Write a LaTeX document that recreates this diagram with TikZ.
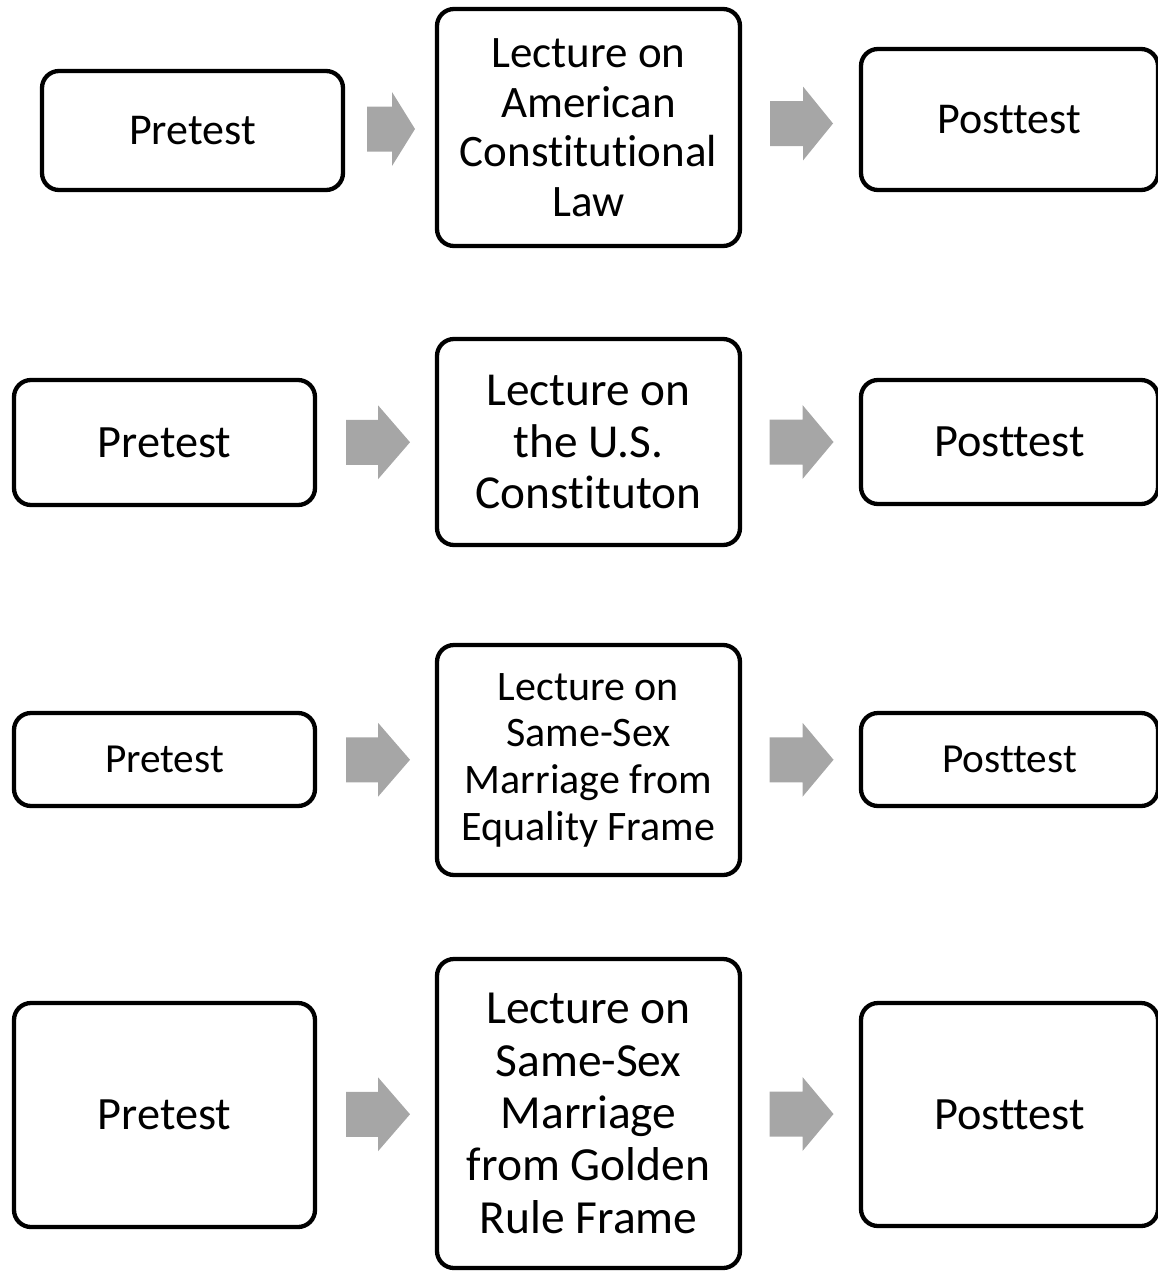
\documentclass[tikz,border=0pt]{standalone}
\usepackage{fontspec}
\setmainfont{Carlito}[Ligatures={NoCommon}]
\usetikzlibrary{calc}
\definecolor{arrowgray}{RGB}{166,166,166}
\tikzset{
  stage/.style={draw=black, line width=4.3pt, rounded corners=17pt, align=center,
                inner sep=0pt, fill=white},
  flow/.style={fill=arrowgray},
  fs/.style 2 args={font=\fontsize{#1}{#2}\selectfont},
}
% block arrow between two stages: from, to, total length, head length, x offset
\newcommand{\flowarrow}[5]{%
  \coordinate (#1#2) at ($(#1.east)!0.5!(#2.west)$);
  \fill[flow] ($(#1#2)+({#5-#3/2},-22.5)$) -- ($(#1#2)+({#5+#3/2-#4},-22.5)$)
    -- ($(#1#2)+({#5+#3/2-#4},-37)$) -- ($(#1#2)+({#5+#3/2},0)$)
    -- ($(#1#2)+({#5+#3/2-#4},37)$) -- ($(#1#2)+({#5+#3/2-#4},22.5)$)
    -- ($(#1#2)+({#5-#3/2},22.5)$) -- cycle;}
\begin{document}
\begin{tikzpicture}[x=1pt, y=-1pt]
\useasboundingbox (0,0) rectangle (1158,1272);

% row 1
\node[stage, minimum width=301pt, minimum height=119pt, fs={44}{48.5}] (p1) at (192.5,130.5) {Pretest};
\node[stage, minimum width=303pt, minimum height=237pt, fs={45}{49.5}] (m1) at (588.5,127.5)
  {Lecture on\\American\\Constitutional\\Law};
\node[stage, minimum width=297pt, minimum height=141pt, fs={44}{48.5}] (q1) at (1009.5,119.5) {Posttest};

% row 2
\node[stage, minimum width=301pt, minimum height=125pt, fs={46.3}{51}] (p2) at (164.5,442.5) {Pretest};
\node[stage, minimum width=303pt, minimum height=206pt, fs={47.3}{51.2}] (m2) at (588.5,442)
  {Lecture on\\the U.S.\\Constituton};
\node[stage, minimum width=297pt, minimum height=124pt, fs={46.3}{51}] (q2) at (1009.5,442) {Posttest};

% row 3
\node[stage, minimum width=301pt, minimum height=93pt, fs={41.3}{46}] (p3) at (164.5,759.5) {Pretest};
\node[stage, minimum width=303pt, minimum height=230pt, fs={42}{46.7}] (m3) at (588.5,760)
  {Lecture on\\Same-Sex\\Marriage from\\Equality Frame};
\node[stage, minimum width=297pt, minimum height=93pt, fs={41.3}{46}] (q3) at (1009.5,759.5) {Posttest};

% row 4
\node[stage, minimum width=301pt, minimum height=224pt, fs={46.3}{51}] (p4) at (164.5,1115) {Pretest};
\node[stage, minimum width=303pt, minimum height=309pt, fs={47.5}{52.3}] (m4) at (588.5,1113.5)
  {Lecture on\\Same-Sex\\Marriage\\from Golden\\Rule Frame};
\node[stage, minimum width=297pt, minimum height=223pt, fs={46.3}{51}] (q4) at (1009.5,1114.5) {Posttest};

% arrows
\flowarrow{p1}{m1}{48}{23}{1}
\flowarrow{m1}{q1}{63}{30}{1}
\flowarrow{p2}{m2}{64}{32}{2}
\flowarrow{m2}{q2}{64}{31}{1}
\flowarrow{p3}{m3}{64}{32}{2}
\flowarrow{m3}{q3}{64}{31}{1}
\flowarrow{p4}{m4}{64}{32}{2}
\flowarrow{m4}{q4}{64}{31}{1}
\end{tikzpicture}
\end{document}
